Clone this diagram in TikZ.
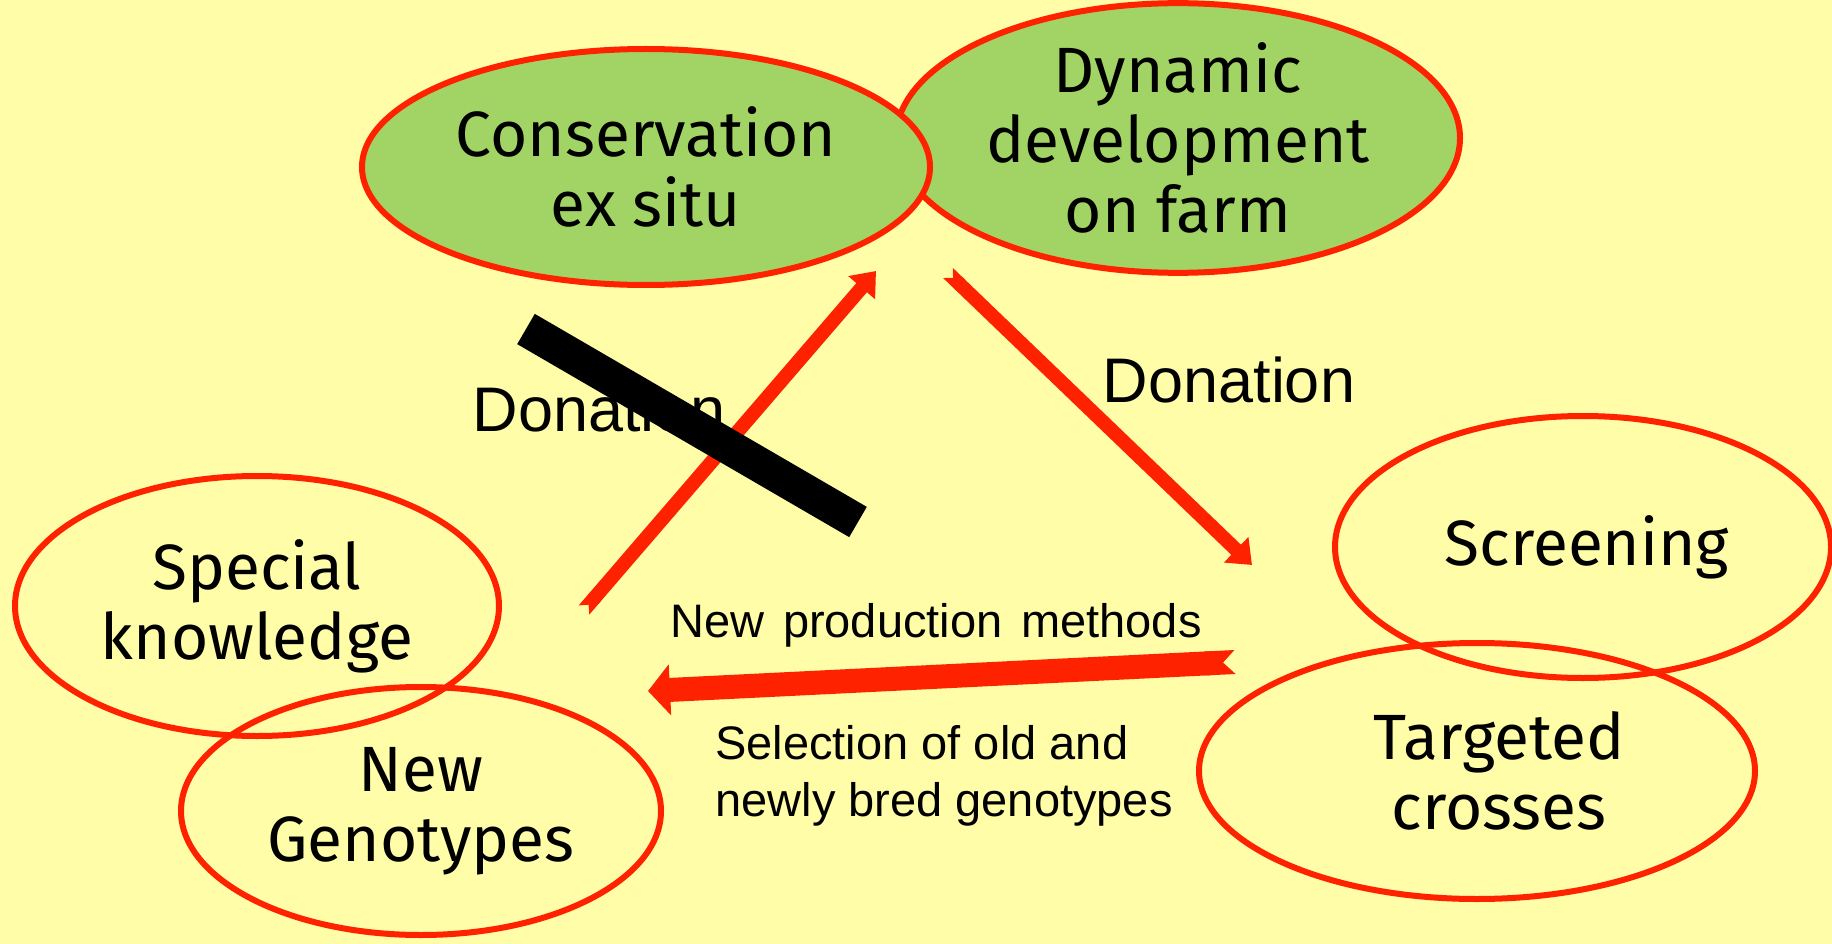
\documentclass[tikz,border=0pt]{standalone}
\usepackage{fontspec}
\setmainfont{Liberation Sans}
\newfontfamily\handfont{Fira Sans}
\usetikzlibrary{shapes,arrows.meta}
\definecolor{paper}{HTML}{FFFDA8}
\definecolor{leaf}{HTML}{A2D465}
\definecolor{flame}{HTML}{FF2200}
\tikzstyle{line} = [draw=flame, line width=14pt, {Triangle Cap[reversed]}-{Triangle[width=34pt,length=22pt]}]
\tikzstyle{wideline} = [draw=flame, line width=24pt, {Triangle Cap[reversed]}-{Triangle[width=50pt,length=22pt]}]
\tikzstyle{cloud} = [draw=flame, line width=6pt, ellipse, inner sep=0pt, align=center, font=\handfont\fontsize{64}{70}\selectfont]
\tikzstyle{field} = [cloud, fill=leaf]
\tikzstyle{note} = [inner sep=0pt, font=\fontsize{47}{57}\selectfont]

\begin{document}
\begin{tikzpicture}[x=1pt, y=-1pt]
        \fill[paper] (0,0) rectangle (1832,944);
        \useasboundingbox (0,0) rectangle (1832,944);
        % top: the two farm ellipses
        \node[field, minimum width=564pt, minimum height=264pt] (dynamic) at (1178,138) {Dynamic\\development\\on farm};
        \node[field, minimum width=568pt, minimum height=236pt] (exsitu) at (646,167) {Conservation\\ex situ};
        % left and right groups
        \node[cloud, minimum width=484pt, minimum height=260pt] (special) at (257,606) {Special\\knowledge};
        \node[cloud, minimum width=480pt, minimum height=248pt] (genotypes) at (421,811) {New\\Genotypes};
        \node[cloud, minimum width=496pt, minimum height=262pt] (screening) at (1583,547) {\hspace*{8pt}Screening};
        \node[cloud, minimum width=556pt, minimum height=256pt] (crosses) at (1477,771) {\hspace*{44pt}Targeted\\\hspace*{44pt}crosses};
        % arrow ends
        \coordinate (upfrom) at (584,610);
        \coordinate (upto) at (876,271);
        \coordinate (downfrom) at (948,273);
        \coordinate (downto) at (1252,565);
        \coordinate (backfrom) at (1235,662);
        \coordinate (backto) at (648,691);
        \node[note, font=\fontsize{63}{70}\selectfont] (donleft) at (599,409) {Donation};
        \node[note, font=\fontsize{63}{70}\selectfont] (donright) at (1229,380) {Donation};
        \node[note] (methods) at (936,625) {\spaceskip=0.4em\relax New production methods};
        \node[note, align=left] (selection) at (944,776) {Selection of old and\\newly bred genotypes};
        \path[line] (upfrom) -- (upto);
        \path[line] (downfrom) -- (downto);
        \path[wideline] (backfrom) -- (backto);
        % crossed out
        \coordinate (barfrom) at (526,329);
        \coordinate (barto) at (858,522);
        \draw[line width=35pt] (barfrom) -- (barto);
\end{tikzpicture}
\end{document}
